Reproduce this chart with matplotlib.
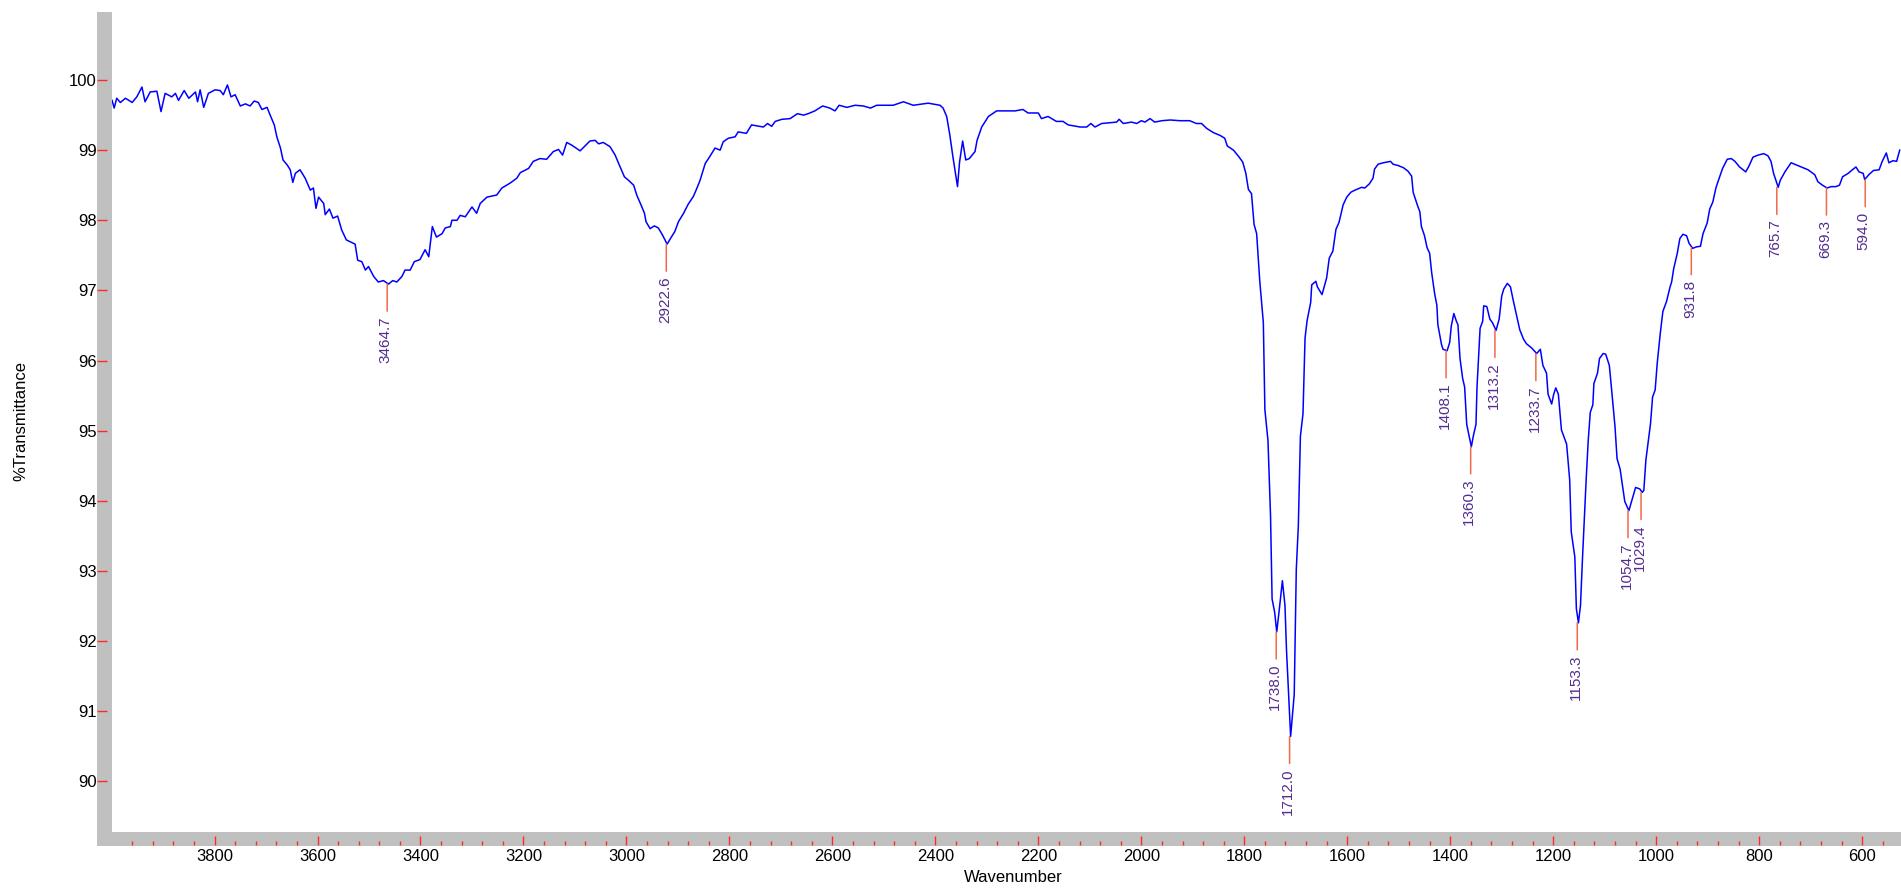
import matplotlib
matplotlib.use('Agg')
import matplotlib.pyplot as plt
from matplotlib.patches import Rectangle
from matplotlib.ticker import FixedLocator, MultipleLocator, FuncFormatter

plt.rcParams['font.family'] = ['Liberation Sans', 'DejaVu Sans']

# spectrum (wavenumber in cm-1, %T)
wavenumber = [
    3999, 3995, 3990, 3983, 3973, 3960, 3951, 3941, 3935, 3925, 3912, 3904, 3896, 3883, 3876,
    3870, 3859, 3850, 3837, 3833, 3828, 3821, 3812, 3799, 3789, 3783, 3775, 3768, 3760, 3750,
    3740, 3731, 3723, 3715, 3708, 3698, 3692, 3684, 3679, 3672, 3667, 3659, 3653, 3648, 3643,
    3634, 3624, 3614, 3608, 3603, 3598, 3588, 3585, 3577, 3570, 3561, 3553, 3544, 3527, 3522,
    3514, 3507, 3501, 3491, 3482, 3472, 3462, 3454, 3446, 3436, 3430, 3420, 3412, 3401, 3391,
    3384, 3380, 3377, 3369, 3358, 3352, 3342, 3339, 3329, 3323, 3313, 3300, 3291, 3284, 3271,
    3252, 3242, 3226, 3213, 3206, 3190, 3181, 3168, 3155, 3142, 3132, 3124, 3116, 3106, 3090,
    3071, 3061, 3054, 3045, 3032, 3022, 3014, 3004, 2996, 2986, 2980, 2970, 2965, 2962, 2954,
    2946, 2938, 2930, 2921, 2912, 2906, 2899, 2889, 2880, 2870, 2863, 2857, 2847, 2838, 2828,
    2818, 2812, 2802, 2789, 2783, 2767, 2757, 2734, 2726, 2718, 2711, 2698, 2682, 2668, 2656,
    2647, 2634, 2619, 2605, 2595, 2587, 2572, 2556, 2540, 2526, 2514, 2495, 2482, 2462, 2443,
    2414, 2391, 2385, 2378, 2372, 2366, 2357, 2353, 2347, 2341, 2334, 2323, 2319, 2310, 2297,
    2281, 2245, 2230, 2220, 2200, 2194, 2181, 2165, 2152, 2142, 2119, 2106, 2098, 2090, 2077,
    2048, 2043, 2035, 2019, 2009, 2000, 1993, 1983, 1974, 1960, 1944, 1925, 1906, 1893, 1883,
    1873, 1860, 1847, 1838, 1833, 1821, 1812, 1803, 1797, 1792, 1786, 1781, 1776, 1770, 1763,
    1760, 1754, 1749, 1746, 1741, 1737, 1732, 1726, 1721, 1718, 1714, 1710, 1703, 1699, 1695,
    1691, 1686, 1682, 1678, 1671, 1669, 1661, 1658, 1649, 1640, 1635, 1628, 1622, 1616, 1608,
    1601, 1593, 1585, 1572, 1566, 1557, 1550, 1547, 1540, 1530, 1516, 1511, 1501, 1491, 1482,
    1475, 1472, 1464, 1459, 1456, 1450, 1445, 1440, 1436, 1430, 1426, 1424, 1417, 1414, 1406,
    1401, 1398, 1393, 1388, 1385, 1381, 1376, 1372, 1368, 1363, 1359, 1355, 1350, 1348, 1342,
    1337, 1335, 1329, 1323, 1318, 1311, 1305, 1300, 1296, 1289, 1283, 1278, 1271, 1265, 1258,
    1252, 1242, 1232, 1225, 1220, 1213, 1210, 1203, 1199, 1195, 1190, 1184, 1174, 1168, 1165,
    1158, 1155, 1151, 1147, 1143, 1136, 1132, 1128, 1123, 1121, 1114, 1110, 1103, 1098, 1091,
    1087, 1080, 1076, 1070, 1065, 1061, 1053, 1046, 1040, 1032, 1027, 1024, 1020, 1011, 1007,
    1002, 998, 992, 987, 980, 973, 970, 966, 959, 954, 948, 941, 936, 929, 922,
    914, 909, 901, 896, 890, 884, 880, 871, 862, 854, 847, 838, 826, 820, 812,
    802, 791, 783, 777, 772, 763, 759, 750, 738, 728, 718, 705, 692, 686, 677,
    668, 660, 651, 644, 638, 627, 619, 612, 606, 598, 595, 587, 578, 567, 561,
    553, 548, 540, 533, 527,
]
transmittance = [
    99.71, 99.60, 99.74, 99.68, 99.74, 99.68, 99.76, 99.90, 99.69, 99.83, 99.84, 99.55, 99.81, 99.76, 99.81,
    99.71, 99.85, 99.74, 99.83, 99.69, 99.86, 99.61, 99.81, 99.86, 99.85, 99.79, 99.93, 99.76, 99.79, 99.63,
    99.66, 99.63, 99.70, 99.68, 99.58, 99.61, 99.50, 99.36, 99.19, 99.03, 98.86, 98.79, 98.72, 98.54, 98.67,
    98.72, 98.60, 98.43, 98.46, 98.17, 98.33, 98.24, 98.08, 98.16, 98.03, 98.06, 97.86, 97.72, 97.66, 97.43,
    97.41, 97.29, 97.34, 97.20, 97.12, 97.14, 97.09, 97.14, 97.12, 97.20, 97.29, 97.29, 97.41, 97.44, 97.58,
    97.48, 97.72, 97.91, 97.76, 97.81, 97.89, 97.91, 98.00, 98.00, 98.07, 98.05, 98.19, 98.10, 98.24, 98.33,
    98.36, 98.46, 98.53, 98.60, 98.68, 98.74, 98.84, 98.88, 98.87, 98.98, 99.01, 98.93, 99.11, 99.07, 98.99,
    99.13, 99.14, 99.09, 99.11, 99.05, 98.93, 98.79, 98.62, 98.57, 98.50, 98.36, 98.19, 98.10, 97.98, 97.88,
    97.92, 97.89, 97.79, 97.66, 97.77, 97.84, 97.98, 98.10, 98.23, 98.34, 98.46, 98.57, 98.81, 98.91, 99.03,
    99.00, 99.12, 99.17, 99.19, 99.26, 99.24, 99.36, 99.33, 99.38, 99.34, 99.41, 99.44, 99.45, 99.52, 99.50,
    99.52, 99.56, 99.63, 99.60, 99.56, 99.64, 99.61, 99.64, 99.63, 99.60, 99.64, 99.64, 99.64, 99.69, 99.64,
    99.67, 99.64, 99.60, 99.48, 99.22, 98.91, 98.48, 98.83, 99.13, 98.86, 98.88, 98.98, 99.14, 99.33, 99.48,
    99.56, 99.56, 99.58, 99.53, 99.53, 99.45, 99.48, 99.41, 99.41, 99.36, 99.33, 99.33, 99.38, 99.33, 99.38,
    99.40, 99.44, 99.38, 99.40, 99.38, 99.42, 99.40, 99.45, 99.40, 99.42, 99.43, 99.42, 99.42, 99.38, 99.38,
    99.31, 99.25, 99.21, 99.17, 99.06, 99.00, 98.92, 98.83, 98.67, 98.44, 98.38, 97.94, 97.81, 97.14, 96.54,
    95.30, 94.86, 93.78, 92.60, 92.41, 92.13, 92.45, 92.86, 92.51, 91.87, 91.24, 90.64, 91.24, 93.02, 93.65,
    94.92, 95.24, 96.32, 96.57, 96.83, 97.08, 97.13, 97.05, 96.94, 97.18, 97.46, 97.56, 97.87, 97.97, 98.22,
    98.33, 98.40, 98.43, 98.47, 98.46, 98.52, 98.60, 98.73, 98.80, 98.82, 98.84, 98.80, 98.78, 98.75, 98.70,
    98.63, 98.40, 98.22, 98.12, 97.91, 97.78, 97.61, 97.53, 97.25, 96.94, 96.79, 96.51, 96.23, 96.16, 96.14,
    96.26, 96.49, 96.67, 96.56, 96.51, 96.03, 95.75, 95.62, 95.09, 94.91, 94.77, 94.93, 95.09, 95.62, 96.46,
    96.56, 96.78, 96.77, 96.59, 96.54, 96.43, 96.59, 96.92, 97.02, 97.10, 97.05, 96.87, 96.64, 96.44, 96.31,
    96.24, 96.18, 96.10, 96.16, 95.93, 95.82, 95.52, 95.38, 95.52, 95.61, 95.52, 95.01, 94.81, 94.30, 93.56,
    93.20, 92.46, 92.26, 92.51, 93.20, 94.30, 94.86, 95.26, 95.37, 95.67, 95.82, 96.03, 96.10, 96.09, 95.93,
    95.62, 95.06, 94.60, 94.45, 94.19, 93.99, 93.86, 94.04, 94.19, 94.17, 94.12, 94.15, 94.58, 95.10, 95.48,
    95.58, 95.96, 96.39, 96.70, 96.84, 97.05, 97.12, 97.31, 97.53, 97.74, 97.80, 97.78, 97.67, 97.60, 97.62,
    97.63, 97.81, 97.96, 98.16, 98.26, 98.46, 98.55, 98.74, 98.87, 98.88, 98.84, 98.76, 98.69, 98.77, 98.90,
    98.93, 98.95, 98.92, 98.84, 98.67, 98.47, 98.57, 98.69, 98.82, 98.79, 98.76, 98.72, 98.65, 98.55, 98.50,
    98.46, 98.48, 98.48, 98.50, 98.62, 98.67, 98.72, 98.76, 98.69, 98.67, 98.58, 98.65, 98.71, 98.72, 98.84,
    98.96, 98.82, 98.85, 98.84, 99.00,
]

# labelled peaks
peak_labels = ['3464.7', '2922.6', '1738.0', '1712.0', '1408.1', '1360.3', '1313.2', '1233.7',
               '1153.3', '1054.7', '1029.4', '931.8', '765.7', '669.3', '594.0']
peak_pos = [3464.7, 2922.6, 1738.0, 1712.0, 1408.1, 1360.3, 1313.2, 1233.7,
            1153.3, 1054.7, 1029.4, 931.8, 765.7, 669.3, 594.0]
peak_T = [97.09, 97.66, 92.13, 90.64, 96.14, 94.77, 96.43, 96.10,
          92.26, 93.86, 94.12, 97.61, 98.47, 98.46, 98.58]

y_ticks = [90, 91, 92, 93, 94, 95, 96, 97, 98, 99, 100]

W, H = 1901, 889
fig = plt.figure(figsize=(W / 100, H / 100), dpi=100)


def fx(px):
    return px / W


def fy(py):
    return 1 - py / H


left, right, top, bottom = 112.3, 1901, 12, 832
ax = fig.add_axes([fx(left), fy(bottom), (right - left) / W, (bottom - top) / H])

grey = '#c0c0c0'
tick_red = '#ff2a2a'
# grey bars standing in for the axes
fig.add_artist(Rectangle((fx(97), fy(846)), (left - 97) / W, (846 - top) / H,
                         transform=fig.transFigure, facecolor=grey, edgecolor='none', zorder=-1))
fig.add_artist(Rectangle((fx(97), fy(846)), (W - 97) / W, (846 - bottom) / H,
                         transform=fig.transFigure, facecolor=grey, edgecolor='none', zorder=-1))

ax.plot(wavenumber, transmittance, color='#0000ff', lw=1.1)

ax.set_xlim(3998.6, 524.5)
ax.set_ylim(89.277, 100.970)

for s in ax.spines.values():
    s.set_visible(False)
ax.spines['left'].set_position(('outward', 3.6))
ax.spines['bottom'].set_position(('outward', 9.4))

ax.yaxis.set_major_locator(FixedLocator(y_ticks))
ax.tick_params(axis='y', direction='out', length=7.2, width=1.0, color=tick_red,
               labelsize=12, pad=0.5)

ax.xaxis.set_major_locator(MultipleLocator(200))
ax.xaxis.set_minor_locator(MultipleLocator(40))
ax.xaxis.set_major_formatter(FuncFormatter(lambda v, p: '' if v >= 3990 else '%d' % v))
ax.tick_params(axis='x', which='major', direction='in', length=6.5, width=1.0, color=tick_red,
               labelsize=12, pad=3)
ax.tick_params(axis='x', which='minor', direction='in', length=3.2, width=1.0, color=tick_red)

# peak markers and labels
for lab, wn, t in zip(peak_labels, peak_pos, peak_T):
    ax.annotate('', xy=(wn, t), xytext=(0, -19.5), textcoords='offset points',
                arrowprops=dict(arrowstyle='-', color='#f06a48', lw=1.1, shrinkA=0, shrinkB=0))
    ax.annotate(lab, xy=(wn, t), xytext=(-1, -23), textcoords='offset points',
                rotation=90, ha='center', va='top', fontsize=11, color='#542c8f')

fig.text(fx(20.6), fy(421), '%Transmittance', rotation=90, ha='center', va='center', fontsize=12)
fig.text(fx(1013), fy(878), 'Wavenumber', ha='center', va='center', fontsize=12)

fig.savefig('out.png', dpi=100)
